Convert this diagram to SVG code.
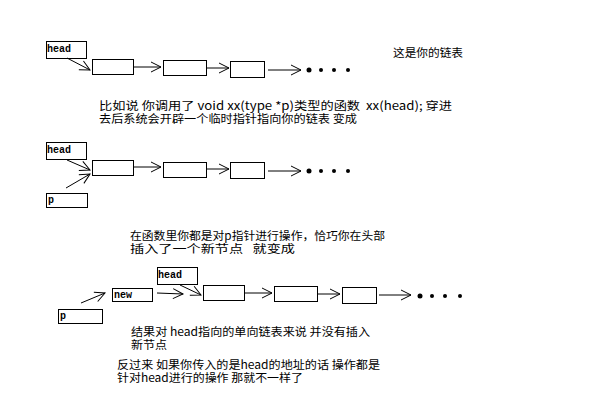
<svg xmlns="http://www.w3.org/2000/svg" width="603" height="408" viewBox="0 0 603 408">
<defs>
<marker id="ah" markerUnits="userSpaceOnUse" markerWidth="14" markerHeight="14" refX="0" refY="0" viewBox="-12 -7 14 14" orient="auto">
<path d="M-10,-5 L0,0 L-10,5" fill="none" stroke="#000" stroke-width="1"/>
</marker>
</defs>
<style>
.box{fill:#fff;stroke:#000;stroke-width:1;shape-rendering:crispEdges}
.lbl{font-family:"Liberation Mono",monospace;font-size:10px;font-weight:bold;fill:#000}
.cn{font-family:"Noto Sans CJK SC","Noto Sans",sans-serif;font-size:11.5px;fill:#000}
.ar{stroke:#000;stroke-width:1;fill:none;marker-end:url(#ah)}
.dot{fill:#000}
</style>
<rect width="603" height="408" fill="#fff"/>

<!-- Diagram 1 -->
<g id="head1"><rect class="box" x="46.5" y="41.5" width="40" height="17"/><text class="lbl" x="47" y="52">head</text></g>
<g id="n1a"><rect class="box" x="92.5" y="59.5" width="41" height="15"/></g>
<g id="n1b"><rect class="box" x="163.5" y="60.5" width="43" height="15"/></g>
<g id="n1c"><rect class="box" x="230.5" y="61.5" width="34" height="16"/></g>
<g id="dots1"><circle class="dot" cx="309" cy="70" r="2.5"/><circle class="dot" cx="321" cy="70" r="2"/><circle class="dot" cx="334" cy="70" r="2"/><circle class="dot" cx="348" cy="70" r="2"/></g>

<!-- Diagram 2 -->
<g id="head2"><rect class="box" x="46.5" y="142.5" width="40" height="17"/><text class="lbl" x="47" y="153">head</text></g>
<g id="p2"><rect class="box" x="46.5" y="193.5" width="41" height="14"/><text class="lbl" x="48" y="203">p</text></g>
<g id="n2a"><rect class="box" x="92.5" y="160.5" width="41" height="15"/></g>
<g id="n2b"><rect class="box" x="163.5" y="162.5" width="43" height="15"/></g>
<g id="n2c"><rect class="box" x="230.5" y="162.5" width="34" height="16"/></g>
<g id="dots2"><circle class="dot" cx="309" cy="171" r="2.5"/><circle class="dot" cx="321" cy="171" r="2"/><circle class="dot" cx="334" cy="171" r="2"/><circle class="dot" cx="348" cy="171" r="2"/></g>

<!-- Diagram 3 -->
<g id="head3"><rect class="box" x="157.5" y="267.5" width="40" height="17"/><text class="lbl" x="158" y="278">head</text></g>
<g id="new"><rect class="box" x="112.5" y="288.5" width="40" height="13"/><text class="lbl" x="114" y="298">new</text></g>
<g id="p3"><rect class="box" x="58.5" y="309.5" width="44" height="14"/><text class="lbl" x="60" y="319">p</text></g>
<g id="n3a"><rect class="box" x="203.5" y="285.5" width="41" height="15"/></g>
<g id="n3b"><rect class="box" x="274.5" y="286.5" width="43" height="15"/></g>
<g id="n3c"><rect class="box" x="342.5" y="287.5" width="34" height="16"/></g>
<g id="dots3"><circle class="dot" cx="420" cy="296" r="2.5"/><circle class="dot" cx="432" cy="296" r="2"/><circle class="dot" cx="445" cy="296" r="2"/><circle class="dot" cx="460" cy="296" r="2"/></g>

<g id="connectors">
<line class="ar" x1="67" y1="58" x2="90" y2="70"/>
<line class="ar" x1="134" y1="67" x2="161" y2="67"/>
<line class="ar" x1="207" y1="68" x2="229" y2="68"/>
<line class="ar" x1="268" y1="70" x2="301" y2="70"/>

<line class="ar" x1="67" y1="160" x2="90" y2="170"/>
<line class="ar" x1="66" y1="188" x2="90" y2="174"/>
<line class="ar" x1="134" y1="167" x2="161" y2="167"/>
<line class="ar" x1="207" y1="169" x2="229" y2="169"/>
<line class="ar" x1="268" y1="171" x2="301" y2="171"/>

<line class="ar" x1="81" y1="303" x2="105" y2="293"/>
<line class="ar" x1="157" y1="293" x2="183" y2="294"/>
<line class="ar" x1="180" y1="285" x2="201" y2="295"/>
<line class="ar" x1="245" y1="293" x2="272" y2="293"/>
<line class="ar" x1="318" y1="294" x2="340" y2="294"/>
<line class="ar" x1="379" y1="295" x2="411" y2="295"/>
</g>

<g id="texts">
<text class="cn" x="393" y="57" textLength="70" lengthAdjust="spacingAndGlyphs">这是你的链表</text>
<text class="cn" xml:space="preserve"><tspan x="99" y="109.5" textLength="353" lengthAdjust="spacingAndGlyphs">比如说 你调用了 void xx(type *p)类型的函数  xx(head); 穿进</tspan><tspan x="99" y="122.5" textLength="258" lengthAdjust="spacingAndGlyphs">去后系统会开辟一个临时指针指向你的链表 变成</tspan></text>
<text class="cn" xml:space="preserve"><tspan x="130" y="239.5" textLength="255" lengthAdjust="spacingAndGlyphs">在函数里你都是对p指针进行操作，恰巧你在头部</tspan><tspan x="130" y="252.5" textLength="165" lengthAdjust="spacingAndGlyphs">插入了一个新节点   就变成</tspan></text>
<text class="cn"><tspan x="131" y="335.5" textLength="239" lengthAdjust="spacingAndGlyphs">结果对 head指向的单向链表来说 并没有插入</tspan><tspan x="131" y="348.5" textLength="36" lengthAdjust="spacingAndGlyphs">新节点</tspan></text>
<text class="cn"><tspan x="117" y="368.5" textLength="263" lengthAdjust="spacingAndGlyphs">反过来 如果你传入的是head的地址的话 操作都是</tspan><tspan x="117" y="381.5" textLength="186" lengthAdjust="spacingAndGlyphs">针对head进行的操作 那就不一样了</tspan></text>
</g>
</svg>
